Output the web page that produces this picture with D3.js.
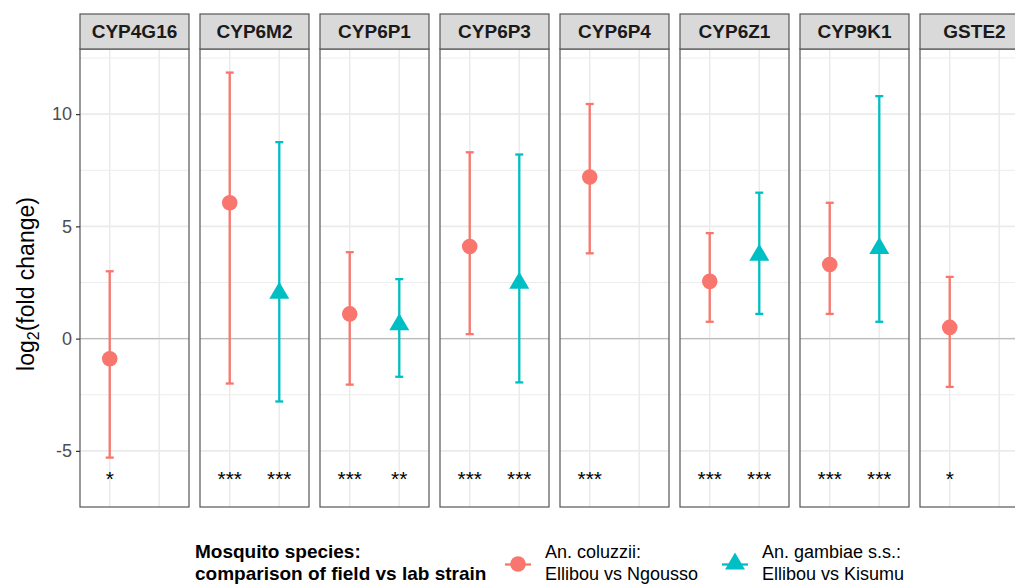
<!DOCTYPE html>
<html>
<head>
<meta charset="utf-8">
<script src="https://cdn.jsdelivr.net/npm/d3@7"></script>
<style>
html,body{margin:0;padding:0;background:#fff;overflow:hidden;}
svg{display:block;font-family:"Liberation Sans",Arial,sans-serif;}
</style>
</head>
<body>
<svg id="chart" width="1015" height="584"></svg>
<script>
// ---- data ----
const genes = ["CYP4G16","CYP6M2","CYP6P1","CYP6P3","CYP6P4","CYP6Z1","CYP9K1","GSTE2"];
const species = ["coluzzii","gambiae"];
const colMean = [-0.9, 6.05, 1.1, 4.1, 7.2, 2.55, 3.3, 0.5];
const colLow  = [-5.3, -2.0, -2.05, 0.2, 3.8, 0.75, 1.1, -2.15];
const colHigh = [3.0, 11.85, 3.85, 8.3, 10.45, 4.7, 6.05, 2.75];
const gamMean = [null, 2.15, 0.75, 2.6, null, 3.85, 4.15, null];
const gamLow  = [null, -2.8, -1.7, -1.95, null, 1.1, 0.75, null];
const gamHigh = [null, 8.75, 2.65, 8.2, null, 6.5, 10.8, null];
const colSig  = ["*","***","***","***","***","***","***","*"];
const gamSig  = ["","***","**","***","","***","***",""];
const sigY = -6;
const yTicks = [-5, 0, 5, 10];
const yMinor = [-2.5, 2.5, 7.5, 12.5];
const yDomain = [-7.5, 12.9];
const legendTitle = ["Mosquito species:", "comparison of field vs lab strain"];
const legendLabels = [["An. coluzzii:", "Ellibou vs Ngousso"], ["An. gambiae s.s.:", "Ellibou vs Kisumu"]];
const colors = ["#F8766D", "#00BFC4"];

// ---- layout ----
const svg = d3.select("#chart");
const panelTop = 49, panelBottom = 507, stripTop = 14;
const fx = d3.scaleBand().domain(genes).range([80, 80 + 8*120 - 11]).paddingInner(11/120).paddingOuter(0);
const pw = fx.bandwidth();
const ix = d3.scalePoint().domain(species).range([0, pw]).padding(0.6);
const y = d3.scaleLinear().domain(yDomain).range([panelBottom, panelTop]);

const rows = [];
genes.forEach((g, i) => {
  rows.push({gene: g, sp: "coluzzii", mean: colMean[i], lo: colLow[i], hi: colHigh[i], sig: colSig[i]});
  rows.push({gene: g, sp: "gambiae", mean: gamMean[i], lo: gamLow[i], hi: gamHigh[i], sig: gamSig[i]});
});
const color = d3.scaleOrdinal().domain(species).range(colors);

const triPath = (w, h) => `M0,${-h/2}L${w/2},${h/2}L${-w/2},${h/2}Z`;

genes.forEach(g => {
  const gx = fx(g);
  const p = svg.append("g").attr("transform", `translate(${gx},0)`);
  p.append("rect").attr("x", 0).attr("y", panelTop).attr("width", pw).attr("height", panelBottom - panelTop).attr("fill", "#fff");
  p.selectAll(".minor").data(yMinor).join("line")
    .attr("x1", 0).attr("x2", pw).attr("y1", d => y(d)).attr("y2", d => y(d))
    .attr("stroke", "#ededed").attr("stroke-width", 1);
  p.selectAll(".major").data(yTicks).join("line")
    .attr("x1", 0).attr("x2", pw).attr("y1", d => y(d)).attr("y2", d => y(d))
    .attr("stroke", "#ebebeb").attr("stroke-width", 1.6);
  p.selectAll(".vgrid").data(species).join("line")
    .attr("x1", d => ix(d)).attr("x2", d => ix(d)).attr("y1", panelTop).attr("y2", panelBottom)
    .attr("stroke", "#ebebeb").attr("stroke-width", 1.6);
  p.append("line").attr("x1", 0).attr("x2", pw).attr("y1", y(0)).attr("y2", y(0))
    .attr("stroke", "#bdbdbd").attr("stroke-width", 1.4);

  const d = rows.filter(r => r.gene === g && r.mean !== null);
  const eb = p.selectAll(".eb").data(d).join("g").attr("stroke", r => color(r.sp)).attr("stroke-width", 2.3);
  eb.append("line").attr("x1", r => ix(r.sp)).attr("x2", r => ix(r.sp)).attr("y1", r => y(r.lo)).attr("y2", r => y(r.hi));
  eb.append("line").attr("x1", r => ix(r.sp) - 4).attr("x2", r => ix(r.sp) + 4).attr("y1", r => y(r.lo)).attr("y2", r => y(r.lo));
  eb.append("line").attr("x1", r => ix(r.sp) - 4).attr("x2", r => ix(r.sp) + 4).attr("y1", r => y(r.hi)).attr("y2", r => y(r.hi));
  d.forEach(r => {
    if (r.sp === "coluzzii") {
      p.append("circle").attr("cx", ix(r.sp)).attr("cy", y(r.mean)).attr("r", 7.8).attr("fill", color(r.sp));
    } else {
      p.append("path").attr("d", triPath(20, 17)).attr("transform", `translate(${ix(r.sp)},${y(r.mean)})`).attr("fill", color(r.sp));
    }
  });
  p.selectAll(".sig").data(rows.filter(r => r.gene === g)).join("text")
    .attr("x", r => ix(r.sp)).attr("y", y(sigY)).attr("dy", "0.6em")
    .attr("text-anchor", "middle").attr("font-size", 21).attr("fill", "#000")
    .text(r => r.sig);
  p.append("rect").attr("x", 0).attr("y", panelTop).attr("width", pw).attr("height", panelBottom - panelTop)
    .attr("fill", "none").attr("stroke", "#555").attr("stroke-width", 1.2);
  p.append("rect").attr("x", 0).attr("y", stripTop).attr("width", pw).attr("height", panelTop - stripTop)
    .attr("fill", "#d9d9d9").attr("stroke", "#555").attr("stroke-width", 1.2);
  p.append("text").attr("x", pw/2).attr("y", (stripTop + panelTop)/2).attr("dy", "0.36em")
    .attr("text-anchor", "middle").attr("font-size", 19).attr("font-weight", "bold").attr("fill", "#1a1a1a")
    .text(g);
});

// y axis
const yAxis = d3.axisLeft(y).tickValues(yTicks).tickSize(4).tickPadding(4).tickFormat(d => String(d));
const ag = svg.append("g").attr("transform", `translate(80,0)`).call(yAxis);
ag.select(".domain").remove();
ag.selectAll(".tick line").attr("stroke", "#333").attr("stroke-width", 1.2);
ag.selectAll(".tick text").attr("font-size", 18).attr("fill", "#4d4d4d")
  .attr("font-family", "Liberation Sans, Arial, sans-serif");

// y title
const yt = svg.append("text").attr("transform", `translate(34,${(panelTop + panelBottom)/2 + 6}) rotate(-90)`)
  .attr("text-anchor", "middle").attr("font-size", 23).attr("fill", "#000");
yt.append("tspan").text("log");
yt.append("tspan").attr("font-size", 16).attr("dy", 5).text("2");
yt.append("tspan").attr("dy", -5).text("(fold change)");

// legend
const lg = svg.append("g");
legendTitle.forEach((t, i) => {
  lg.append("text").attr("x", 195).attr("y", 558 + i*21.5).attr("font-size", 19).attr("font-weight", "bold")
    .attr("fill", "#000").text(t);
});
const keyX = [518, 735], labX = [545, 762];
species.forEach((s, i) => {
  lg.append("line").attr("x1", keyX[i] - 13).attr("x2", keyX[i] + 13).attr("y1", 564.5).attr("y2", 564.5)
    .attr("stroke", color(s)).attr("stroke-width", 2.3);
  if (i === 0) {
    lg.append("circle").attr("cx", keyX[i]).attr("cy", 564).attr("r", 7.8).attr("fill", color(s));
  } else {
    lg.append("path").attr("d", triPath(20, 17)).attr("transform", `translate(${keyX[i]},561)`).attr("fill", color(s));
  }
  legendLabels[i].forEach((t, j) => {
    lg.append("text").attr("x", labX[i]).attr("y", 558 + j*21.5).attr("font-size", 18).attr("fill", "#000").text(t);
  });
});
</script>
</body>
</html>
